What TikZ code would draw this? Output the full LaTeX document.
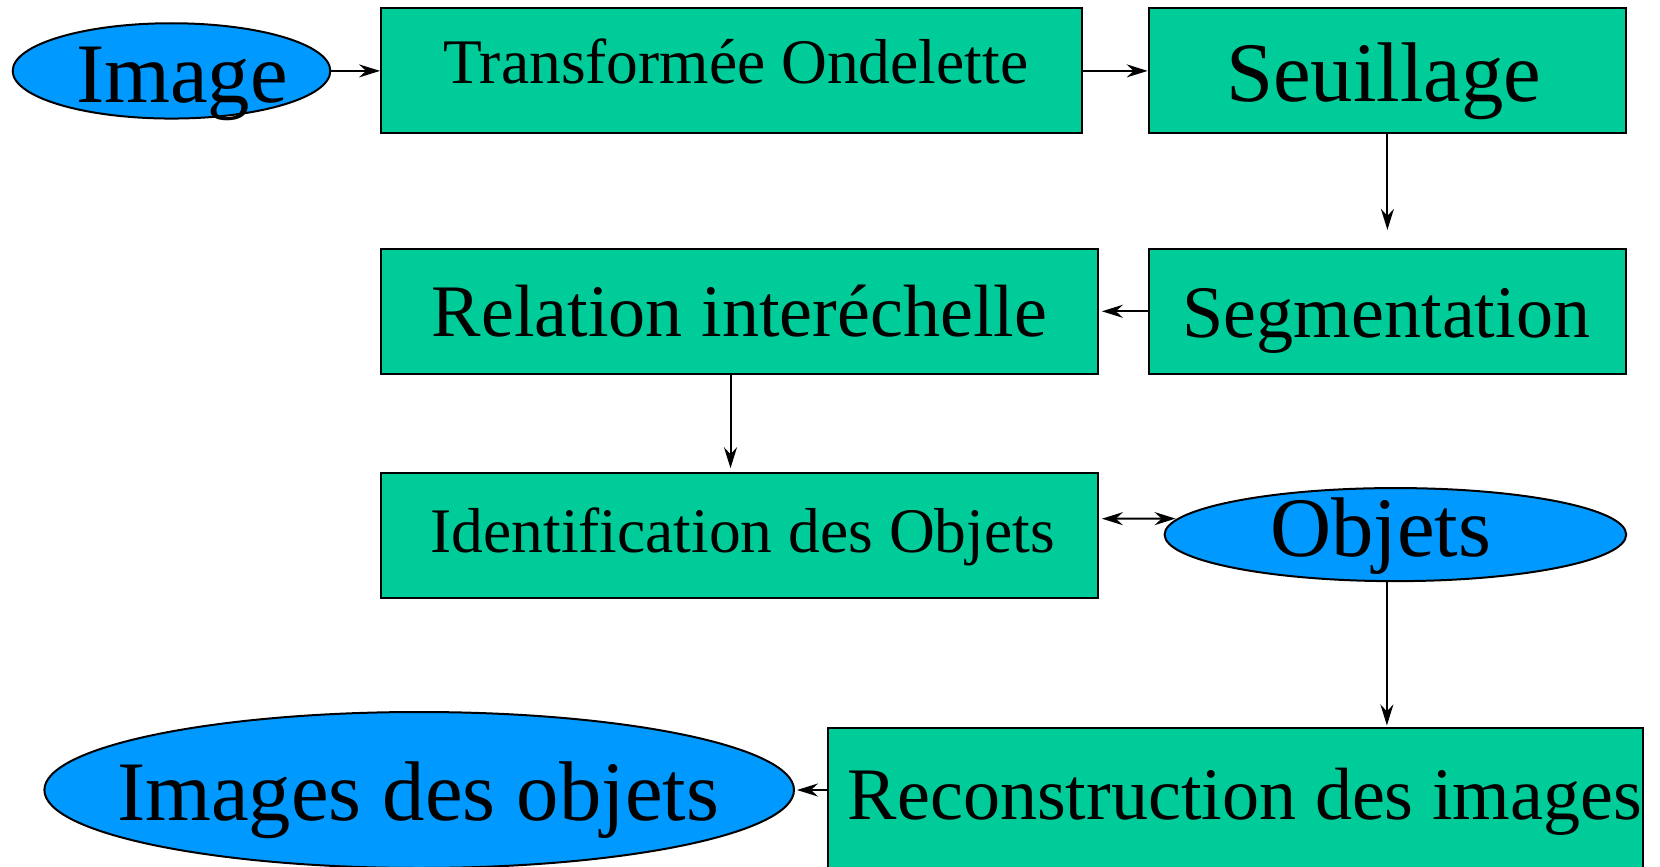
\documentclass[tikz,border=0pt]{standalone}
\usepackage{fontspec}
\setmainfont{Liberation Serif}
\usetikzlibrary{arrows.meta,shapes.geometric,calc}
\definecolor{boxgreen}{RGB}{0,204,153}
\definecolor{ellblue}{RGB}{0,153,255}
\tikzset{
  stepbox/.style={draw=black,line width=2pt,fill=boxgreen,rectangle,inner sep=0pt},
  ellnode/.style={draw=black,line width=2pt,fill=ellblue,ellipse,inner sep=0pt},
  lbl/.style={anchor=base,inner sep=0pt,text=black},
  big/.style={font=\fontsize{84.7}{90}\selectfont},
  mid/.style={font=\fontsize{74.1}{80}\selectfont},
  small/.style={font=\fontsize{63.5}{70}\selectfont},
  arr/.style={draw=black,line width=2pt,-{Stealth[length=21pt,width=13pt,inset=7pt]}},
  darr/.style={draw=black,line width=2pt,{Stealth[length=21pt,width=13pt,inset=7pt]}-{Stealth[length=21pt,width=13pt,inset=7pt]}}
}
\begin{document}
\begin{tikzpicture}[x=1pt,y=-1pt]
\useasboundingbox (0,0) rectangle (1660,867);
\clip (0,0) rectangle (1660,867);
\fill[white] (0,0) rectangle (1660,867);
% shapes
\node[ellnode,minimum width=317.6pt,minimum height=95.3pt] (img) at (171.5,70.9) {};
\node[stepbox,minimum width=700.9pt,minimum height=124.9pt] (trans) at (731.5,70.9) {};
\node[stepbox,minimum width=477.5pt,minimum height=124.9pt] (seuil) at (1387.4,70.9) {};
\node[stepbox,minimum width=716.8pt,minimum height=124.9pt] (rel) at (739.5,311.3) {};
\node[stepbox,minimum width=477.5pt,minimum height=124.9pt] (seg) at (1387.4,311.3) {};
\node[stepbox,minimum width=716.8pt,minimum height=124.9pt] (ident) at (739.5,535.7) {};
\node[ellnode,minimum width=461.6pt,minimum height=93.1pt] (obj) at (1395.4,534.6) {};
\node[stepbox,minimum width=815.2pt,minimum height=200pt] (recon) at (1235.5,828.4) {};
\node[ellnode,minimum width=749.6pt,minimum height=156pt] (imgs) at (419.2,790) {};
% texts
\node[lbl,big] (tImg) at (182,102.7) {Image};
\node[lbl,small] (tTrans) at (735.8,83.6) {Transformée Ondelette};
\node[lbl,big] (tSeuil) at (1383.7,102) {Seuillage};
\node[lbl,mid] (tRel) at (739.5,336.7) {Relation interéchelle};
\node[lbl,mid] (tSeg) at (1386.4,337.7) {Segmentation};
\node[lbl,small] (tIdent) at (742.7,552.6) {Identification des Objets};
\node[lbl,big] (tObj) at (1380.6,556.9) {Objets};
\node[lbl,big] (tImgs) at (418.2,820.5) {Images des objets};
\node[lbl,mid] (tRecon) at (1245,819.4) {Reconstruction des images};
% connectors
\draw[arr] (img.east) -- (trans.west);
\draw[arr] (trans.east) -- (seuil.west);
\draw[arr,shorten >=18pt] (seuil.south) -- (seg.north);
\draw[arr,shorten >=3pt] (seg.west) -- (rel.east);
\draw[arr,shorten >=4pt] ([xshift=-9pt]rel.south) -- ([xshift=-9pt]ident.north);
\coordinate (dl) at ($(ident.east)+(3,-17)$);
\coordinate (dr) at ($(obj.west)+(12,-16)$);
\draw[darr] (dl) -- (dr);
\coordinate (os) at ($(obj.south)+(-8.5,0)$);
\draw[arr,shorten >=2pt] (os) -- (os |- recon.north);
\draw[arr,shorten >=2pt] (recon.west |- imgs.east) -- (imgs.east);
\end{tikzpicture}
\end{document}
